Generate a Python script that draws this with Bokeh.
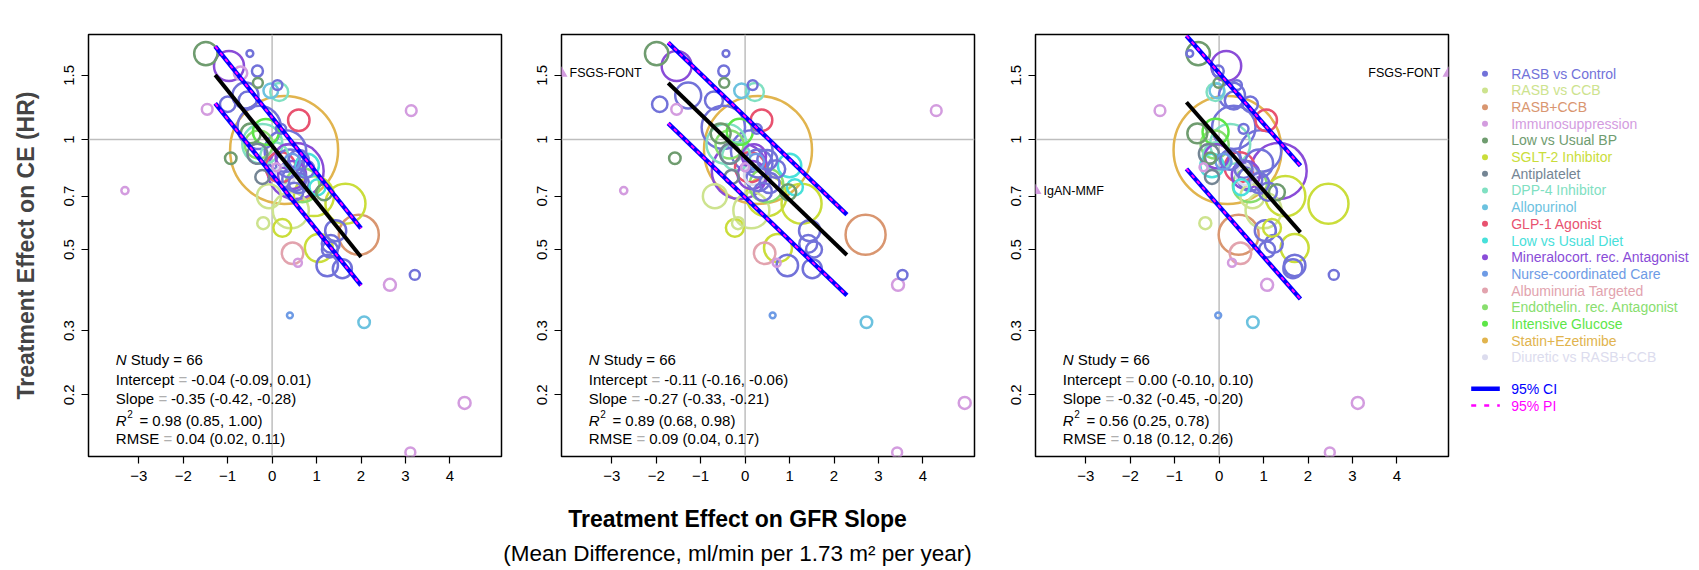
import numpy as np
from bokeh.plotting import figure
from bokeh.layouts import row, column
from bokeh.models import (Range1d, FixedTicker, CustomJSTickFormatter, Span, Label,
                          ColumnDataSource)
from bokeh.core.properties import value
from bokeh.embed import file_html
from bokeh.resources import INLINE

FONT = "Liberation Sans"

# ---------------------------------------------------------------- data
categories = [
    "RASB vs Control", "RASB vs CCB", "RASB+CCB", "Immunosuppression",
    "Low vs Usual BP", "SGLT-2 Inhibitor", "Antiplatelet", "DPP-4 Inhibitor",
    "Allopurinol", "GLP-1 Agonist", "Low vs Usual Diet",
    "Mineralocort. rec. Antagonist", "Nurse-coordinated Care",
    "Albuminuria Targeted", "Endothelin. rec. Antagonist", "Intensive Glucose",
    "Statin+Ezetimibe", "Diuretic vs RASB+CCB",
]
category_colors = [
    "#7272D9", "#CDE38E", "#D99670", "#D39CDF", "#6F9C6F", "#CADD3A",
    "#748594", "#80E0C2", "#6CC2DF", "#E8526F", "#48E0DA", "#8A4CD8",
    "#6E9BE5", "#E2A3AE", "#88DE6E", "#5DE647", "#E1B44E", "#DCDCEE",
]

# one entry per trial: treatment group, HR on clinical endpoint,
# treatment effect on 3-year total, 2-year total and chronic GFR slope,
# number of clinical events
study_group = [4, 11, 0, 3, 0, 4, 7, 8, 0, 9, 16, 0, 3, 3, 12, 8, 3, 3, 3, 0,
               3, 4, 0, 0, 2, 5, 5, 5, 5, 1, 1, 1, 13, 3, 0, 0, 0, 0, 0, 10,
               10, 9, 11, 15, 14, 7, 6, 6, 4, 4, 17, 0, 0, 0, 0, 11, 0, 0, 14, 7,
               12, 0, 0, 3, 11, 0]
hr_ce = [1.72, 1.59, 1.72, 1.52, 1.54, 1.43, 1.35, 1.36, 1.41, 1.13, 0.937, 1.08,
         1.20, 0.725, 0.33, 0.316, 0.19, 0.139, 0.40, 0.426, 1.21, 0.889, 1.25,
         1.32, 0.549, 0.667, 0.505, 0.70, 0.573, 0.64, 0.70, 0.59, 0.488, 0.46,
         0.452, 0.443, 0.518, 0.563, 0.50, 0.849, 0.74, 0.84, 0.82, 1.05, 0.75,
         0.973, 0.914, 0.79, 1.04, 0.717, 0.80, 0.93, 0.86, 0.78, 0.88, 0.90,
         1.07, 1.28, 0.97, 0.90, 0.87, 0.76, 0.83, 0.84, 0.80, 0.72]
slope_3y = [-1.49, -0.97, -0.50, -0.71, -0.33, -0.32, 0.16, -0.03, 0.12, 0.60,
            0.27, -0.29, 3.13, -3.31, 0.40, 2.07, 4.33, 3.11, 2.65, 3.21, -1.46,
            -0.93, -1.00, -0.60, 1.95, 1.65, 1.05, 0.94, 0.23, 0.42, -0.07, -0.20,
            0.46, 0.58, 1.24, 1.58, 1.32, 1.43, 1.30, 0.79, 1.02, 0.19, 0.53,
            -0.14, 0.68, -0.22, -0.33, -0.22, -0.48, 1.17, 0.30, 0.30, 0.40, 0.50,
            0.60, 0.35, 0.20, -0.55, -0.30, 0.05, 0.45, 0.60, 0.75, 0.10, 0.45,
            0.50]
slope_2y = [-1.99, -1.54, -0.43, -5.50, -0.48, -0.47, 0.22, -0.08, 0.17, 0.37,
            0.29, -0.49, 4.30, -2.73, 0.62, 2.73, 4.94, 3.42, 3.44, 3.54, -1.54,
            -1.58, -1.92, -1.28, 2.71, 1.27, 0.74, 0.48, -0.23, 0.14, -0.68, -0.16,
            0.44, 0.71, 0.95, 1.51, 1.42, 1.45, 1.55, 1.00, 1.12, 0.11, -0.12,
            -0.12, 0.48, -0.42, -0.34, -0.30, -0.55, 0.97, 0.20, 0.15, 0.30, 0.30,
            0.50, 0.20, 0.26, -0.70, -0.35, -0.20, 0.25, 0.55, 0.70, 0.00, 0.15,
            0.40]
slope_chronic = [-0.47, 0.16, -0.66, 6.00, -0.02, -0.01, -0.08, -0.05, 0.40, 1.06,
                 0.19, 0.33, -1.33, -5.00, -0.02, 0.76, 3.12, 2.49, 1.08, 2.58,
                 np.nan, -0.20, 0.70, 0.29, 0.44, 2.46, 1.70, 1.49, 1.19, 1.00,
                 0.75, -0.31, 0.48, 0.29, 1.70, 1.66, 1.23, 1.04, 1.08, -0.16,
                 0.50, 0.46, 1.34, -0.08, 0.69, 0.25, -0.23, -0.16, -0.49, 1.30,
                 0.60, 0.93, 0.90, 0.70, 0.25, -0.05, 0.55, 0.33, -0.10, -0.05,
                 0.10, 0.90, 0.55, -0.35, 0.60, 1.10]
ce_events = [95, 156, 8, 31, 21, 17, 56, 37, 17, 80, 2025, 327, 20, 9, 6, 23, 25,
             17, 25, 17, 20, 23, 41, 117, 278, 278, 136, 278, 56, 225, 100, 25,
             80, 11, 80, 63, 56, 77, 44, 95, 44, 156, 544, 117, 200, 278, 69, 34,
             69, 44, 69, 300, 136, 100, 69, 100, 17, 56, 136, 136, 44, 69, 56, 11,
             136, 56]
study_label = {3: "FSGS-FONT", 13: "IgAN-MMF"}

panel_titles = ["3-Year Total Slope", "2-Year Total Slope", "Chronic Slope"]
panel_slopes = [slope_3y, slope_2y, slope_chronic]

# trial-level regression of log(HR) on slope effect
fit_intercept = [-0.04, -0.11, 0.00]
fit_slope = [-0.35, -0.27, -0.32]
fit_x_from = [-1.28, -1.73, -0.735]
fit_x_to = [2.00, 2.29, 1.83]
band_halfwidth = [0.18, 0.255, 0.42]

n_study = 66
stat_intercept = ["-0.04 (-0.09, 0.01)", "-0.11 (-0.16, -0.06)", "0.00 (-0.10, 0.10)"]
stat_slope = ["-0.35 (-0.42, -0.28)", "-0.27 (-0.33, -0.21)", "-0.32 (-0.45, -0.20)"]
stat_r2 = ["0.98 (0.85, 1.00)", "0.89 (0.68, 0.98)", "0.56 (0.25, 0.78)"]
stat_rmse = ["0.04 (0.02, 0.11)", "0.09 (0.04, 0.17)", "0.18 (0.12, 0.26)"]

x_ticks = [-3, -2, -1, 0, 1, 2, 3, 4]
y_ticks = [0.2, 0.3, 0.5, 0.7, 1, 1.5]

# ---------------------------------------------------------------- layout
X_LO, X_HI = -4.13, 5.16
Y_LO, Y_HI = 0.1355, 1.94
FRAME_W, FRAME_H = 413, 422
ROW_H = 495
BORDER_TOP, BORDER_BOTTOM = 34, 39
borders = [(88, 29), (31, 30), (31, 12)]
LEGEND_X0 = 88 + 413 + 29 + 31 + 413 + 30 + 31 + 413 + 12


def x_at(px):
    """data x at a horizontal pixel distance from the frame's left edge"""
    return X_LO + px / FRAME_W * (X_HI - X_LO)


def y_at(px):
    """data y at a vertical pixel distance below the frame's top edge"""
    lo, hi = np.log(Y_LO), np.log(Y_HI)
    return float(np.exp(hi - px / FRAME_H * (hi - lo)))


def make_panel(k):
    bl, br = borders[k]
    p = figure(width=bl + FRAME_W + br, height=ROW_H,
               x_range=Range1d(X_LO, X_HI), y_range=Range1d(Y_LO, Y_HI),
               y_axis_type="log", min_border_left=bl, min_border_right=br,
               min_border_top=BORDER_TOP, min_border_bottom=BORDER_BOTTOM,
               toolbar_location=None, output_backend="svg")
    p.xgrid.visible = False
    p.ygrid.visible = False
    p.outline_line_color = "black"
    p.outline_line_width = 1.5
    p.background_fill_color = "white"
    p.border_fill_color = "white"
    for ax in (p.xaxis[0], p.yaxis[0]):
        ax.axis_line_color = None
        ax.major_tick_in = 0
        ax.major_tick_out = 7
        ax.major_tick_line_color = "black"
        ax.major_tick_line_width = 1.2
        ax.minor_tick_line_color = None
        ax.major_label_text_font = FONT
        ax.major_label_text_font_size = "15px"
        ax.major_label_text_color = "black"
        ax.major_label_standoff = 7
    p.xaxis.ticker = FixedTicker(ticks=x_ticks)
    p.yaxis.ticker = FixedTicker(ticks=y_ticks)
    p.yaxis.formatter = CustomJSTickFormatter(code="return tick.toString();")
    p.yaxis.major_label_orientation = "vertical"

    p.add_layout(Span(location=0, dimension="height", line_color="#BEBEBE",
                      line_width=1.5, level="underlay"))
    p.add_layout(Span(location=1, dimension="width", line_color="#BEBEBE",
                      line_width=1.5, level="underlay"))

    xs_all = np.array(panel_slopes[k], dtype=float)
    ys_all = np.array(hr_ce)
    ev = np.array(ce_events, dtype=float)
    inside = (~np.isnan(xs_all)) & (xs_all >= X_LO) & (xs_all <= X_HI)
    order = np.argsort(-ev)
    idx = [i for i in order if inside[i]]
    src = ColumnDataSource(dict(
        x=xs_all[idx], y=ys_all[idx],
        size=2.4 * np.sqrt(ev[idx]),
        color=[category_colors[study_group[i]] for i in idx],
    ))
    p.scatter("x", "y", source=src, marker="circle", size="size",
              fill_color=None, line_color="color", line_width=2.5)

    # studies beyond the axis limits: triangle at the edge plus name
    for i, name in study_label.items():
        xv = xs_all[i]
        if np.isnan(xv) or X_LO <= xv <= X_HI:
            continue
        col = category_colors[study_group[i]]
        edge = X_LO if xv < X_LO else X_HI
        p.scatter([edge], [hr_ce[i]], marker="triangle", size=12,
                  fill_color=col, line_color=None)
        p.text([edge], [hr_ce[i]], text=[name],
               x_offset=8 if xv < X_LO else -8,
               text_align="left" if xv < X_LO else "right",
               text_baseline="middle", text_font=value(FONT),
               text_font_size="12.5px", text_color="black")

    # regression line with 95% CI / PI bands
    fx = np.array([fit_x_from[k], fit_x_to[k]])
    fy = fit_intercept[k] + fit_slope[k] * fx
    h = band_halfwidth[k]
    for off in (h, -h):
        p.line(fx, np.exp(fy + off), line_color="#0000FF", line_width=4.5)
        p.line(fx, np.exp(fy + off), line_color="#FF00FF", line_width=2,
               line_dash="4 4")
    p.line(fx, np.exp(fy), line_color="black", line_width=4)

    # summary statistics
    x0 = x_at(27.3)
    tf = value(FONT)

    def put(txt, dx, ypx, size="15px", style="normal", color="black"):
        p.text([x0], [y_at(ypx)], text=[txt], x_offset=dx, text_align="left",
               text_baseline="middle", text_font=tf, text_font_size=size,
               text_font_style=style, text_color=color)

    eq_col = "#AFAFAF"
    put("N", 0, 325, style="italic")
    put(f"Study = {n_study}", 15.0, 325)
    put("Intercept", 0, 345)
    put("=", 62.8, 345, color=eq_col)
    put(stat_intercept[k], 75.5, 345)
    put("Slope", 0, 364.3)
    put("=", 42.8, 364.3, color=eq_col)
    put(stat_slope[k], 55.3, 364.3)
    put("R", 0, 386, style="italic")
    put("2", 11.5, 379, size="10px")
    put("= " + stat_r2[k], 23.6, 386)
    put("RMSE", 0, 404.3)
    put("=", 47.8, 404.3, color=eq_col)
    put(stat_rmse[k], 60.4, 404.3)

    p.add_layout(Label(x=(X_LO + X_HI) / 2, y=y_at(-17.3), text=panel_titles[k],
                       text_align="center", text_baseline="middle",
                       text_font=FONT, text_font_size="17.5px",
                       text_font_style="bold", text_color="black"))
    return p


panels = [make_panel(k) for k in range(3)]
p1 = panels[0]
p1.yaxis.axis_label = "Treatment Effect on CE (HR)"
p1.yaxis.axis_label_text_font = FONT
p1.yaxis.axis_label_text_font_size = "23px"
p1.yaxis.axis_label_text_font_style = "bold"
p1.yaxis.axis_label_standoff = 23

# legend column; its frame lines up with the panel frames, so the
# vertical range spans the frame's page rows
leg_w = 1699 - LEGEND_X0
leg_top, leg_bottom = BORDER_TOP, ROW_H - BORDER_BOTTOM
leg = figure(width=leg_w, height=ROW_H, x_range=Range1d(LEGEND_X0, 1699),
             y_range=Range1d(leg_bottom, leg_top), min_border=0,
             toolbar_location=None, x_axis_location=None, y_axis_location=None,
             output_backend="svg", title=None)
leg.xgrid.visible = False
leg.ygrid.visible = False
leg.outline_line_color = None
leg_y = [73.3 + 16.67 * i for i in range(len(categories))]
leg.scatter([1484.5] * len(categories), leg_y, marker="circle", size=6,
            fill_color=category_colors, line_color=None)
leg.text([1510.7] * len(categories), leg_y, text=categories,
         text_color=category_colors, text_font=value(FONT),
         text_font_size="14px", text_baseline="middle", text_align="left")
leg.line([1470.7, 1499.3], [388.3, 388.3], line_color="#0000FF", line_width=4.5)
leg.line([1470.7, 1499.3], [405, 405], line_color="#FF00FF", line_width=2.5,
         line_dash="5 8")
leg.text([1510.7, 1510.7], [388.3, 405], text=["95% CI", "95% PI"],
         text_color=["#0000FF", "#FF00FF"], text_font=value(FONT),
         text_font_size="14px", text_baseline="middle", text_align="left")

# shared x-axis title
bottom = figure(width=1699, height=570 - ROW_H, x_range=Range1d(0, 1699),
                y_range=Range1d(570, ROW_H), min_border=0, toolbar_location=None,
                x_axis_location=None, y_axis_location=None, output_backend="svg",
                title=None)
bottom.xgrid.visible = False
bottom.ygrid.visible = False
bottom.outline_line_color = None
bottom.text([737], [518.5], text=["Treatment Effect on GFR Slope"],
            text_align="center", text_baseline="middle", text_font=value(FONT),
            text_font_size="23px", text_font_style="bold", text_color="black")
bottom.text([737], [553], text=["(Mean Difference, ml/min per 1.73 m\u00b2 per year)"],
            text_align="center", text_baseline="middle", text_font=value(FONT),
            text_font_size="22.5px", text_color="black")

layout = column(row(*panels, leg), bottom)
open("out.html", "w").write(file_html(layout, INLINE))
